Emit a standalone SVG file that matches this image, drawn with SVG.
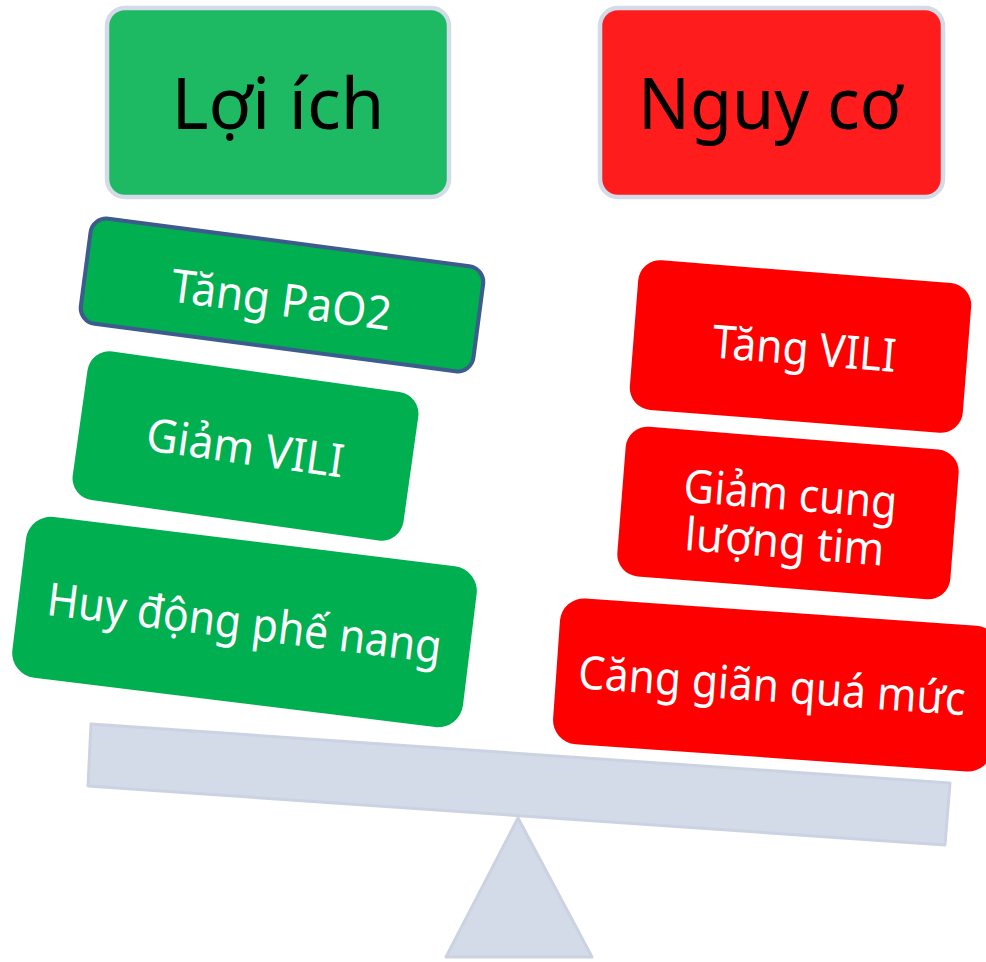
<svg xmlns="http://www.w3.org/2000/svg" width="986" height="962" viewBox="0 0 986 962">
<style>
.hdr{stroke:#d3dae8;stroke-width:4.5}
.t{font-family:"Noto Sans","Open Sans","DejaVu Sans",sans-serif;text-anchor:middle}
.big{font-size:71px;fill:#000}
.w{fill:#fff;font-size:46px}
.g{fill:#00b050}
.r{fill:#ff0000}
.base{fill:#d3dae8;stroke:#cbd3e3;stroke-width:3;stroke-linejoin:round}
</style>
<rect width="986" height="962" fill="#fff"/>
<g id="scale">
<polygon class="base" points="518,818 592,957 446,957"/>
<polygon class="base" points="91,724 950,783 945,845 88,786"/>
</g>
<g id="loi-ich">
<rect class="hdr" x="107" y="8" width="342" height="189" rx="18" fill="#1db963"/>
<text class="t big" x="278" y="129" textLength="213" lengthAdjust="spacingAndGlyphs">Lợi ích</text>
</g>
<g id="nguy-co">
<rect class="hdr" x="600" y="8" width="343" height="189" rx="18" fill="#ff1c1c"/>
<text class="t big" x="770" y="129" textLength="264" lengthAdjust="spacingAndGlyphs">Nguy cơ</text>
</g>
<g id="tang-pao2" transform="translate(282,295) rotate(7.5)">
<rect class="g" x="-198" y="-53" width="396" height="106" rx="16" stroke="#3d5b8c" stroke-width="4"/>
<text class="t w" x="0" y="21" font-size="48" textLength="222" lengthAdjust="spacingAndGlyphs">Tăng PaO2</text>
</g>
<g id="giam-vili" transform="translate(245.5,446) rotate(8)">
<rect class="g" x="-167" y="-75" width="334" height="150" rx="22"/>
<text class="t w" x="0" y="18" textLength="199" lengthAdjust="spacingAndGlyphs">Giảm VILI</text>
</g>
<g id="huy-dong" transform="translate(244.5,622) rotate(7)">
<rect class="g" x="-227" y="-81" width="454" height="162" rx="25"/>
<text class="t w" x="0" y="17" textLength="397" lengthAdjust="spacingAndGlyphs">Huy động phế nang</text>
</g>
<g id="tang-vili" transform="translate(800.5,346.5) rotate(4.5)">
<rect class="r" x="-167" y="-75" width="334" height="150" rx="22"/>
<text class="t w" x="4" y="18" textLength="184" lengthAdjust="spacingAndGlyphs">Tăng VILI</text>
</g>
<g id="giam-cung-luong-tim" transform="translate(788,513) rotate(4.5)">
<rect class="r" x="-167" y="-75" width="334" height="150" rx="22"/>
<text class="t w" x="1" y="-3" textLength="214" lengthAdjust="spacingAndGlyphs">Giảm cung</text>
<text class="t w" x="-1" y="45" textLength="200" lengthAdjust="spacingAndGlyphs">lượng tim</text>
</g>
<g id="cang-gian" transform="translate(776,685) rotate(4)">
<rect class="r" x="-220" y="-73" width="440" height="146" rx="24"/>
<text class="t w" x="-4" y="17" font-size="45" textLength="388" lengthAdjust="spacingAndGlyphs">Căng giãn quá mức</text>
</g>
<g id="connectors"/>
</svg>
